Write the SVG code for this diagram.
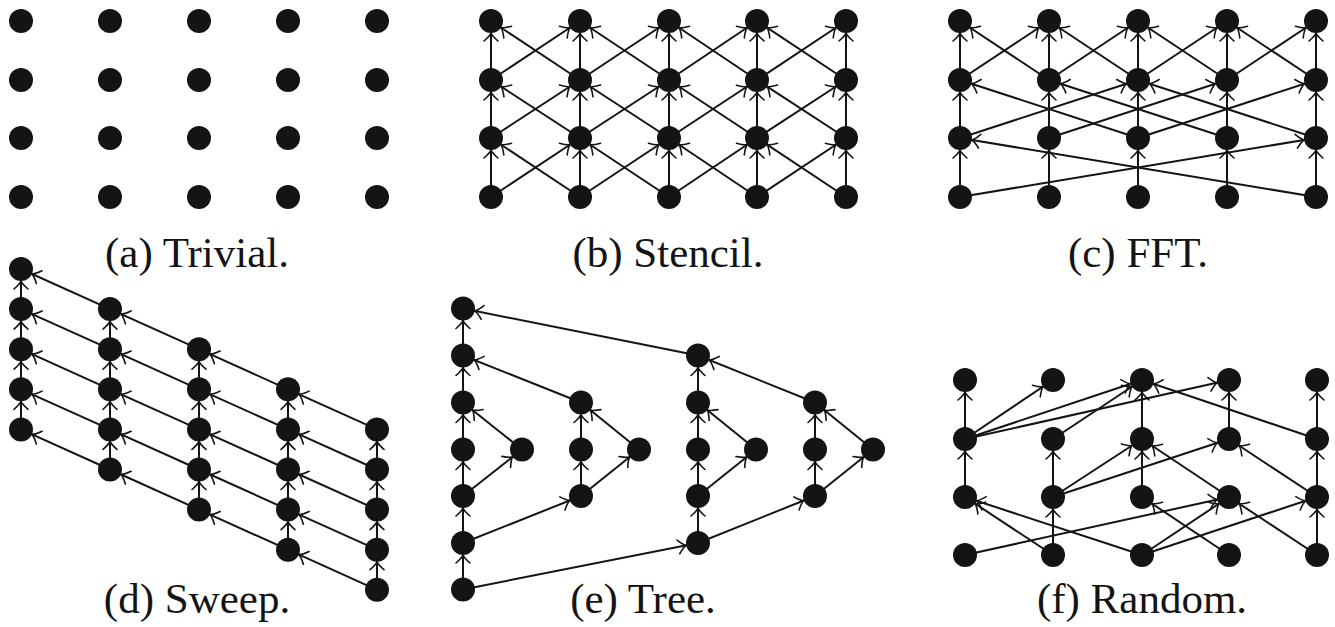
<svg xmlns="http://www.w3.org/2000/svg" width="1335" height="627" viewBox="0 0 1335 627">
<style>
.e{stroke:#141414;stroke-width:2;fill:none;marker-end:url(#ah)}
.n circle{fill:#141414}
.lbl{font-family:"Liberation Serif","Times New Roman",serif;font-size:43px;fill:#141414;text-anchor:middle}
</style>
<defs>
<marker id="ah" viewBox="-20 -10 40 20" markerWidth="40" markerHeight="20" markerUnits="userSpaceOnUse" refX="12" refY="0" orient="auto" overflow="visible">
<path d="M-8,-7 Q-3,-1.2 0,0 Q-3,1.2 -8,7" fill="none" stroke="#141414" stroke-width="1.6" stroke-linecap="round"/>
</marker>
</defs>
<rect width="1335" height="627" fill="#fff"/>

<g id="connectors">
<!-- (b) Stencil -->
<line class="e" x1="491" y1="197" x2="491" y2="138"/><line class="e" x1="580" y1="197" x2="580" y2="138"/><line class="e" x1="669" y1="197" x2="669" y2="138"/><line class="e" x1="757" y1="197" x2="757" y2="138"/><line class="e" x1="846" y1="197" x2="846" y2="138"/>
<line class="e" x1="491" y1="197" x2="580" y2="138"/><line class="e" x1="580" y1="197" x2="669" y2="138"/><line class="e" x1="669" y1="197" x2="757" y2="138"/><line class="e" x1="757" y1="197" x2="846" y2="138"/>
<line class="e" x1="580" y1="197" x2="491" y2="138"/><line class="e" x1="669" y1="197" x2="580" y2="138"/><line class="e" x1="757" y1="197" x2="669" y2="138"/><line class="e" x1="846" y1="197" x2="757" y2="138"/>
<line class="e" x1="491" y1="138" x2="491" y2="80"/><line class="e" x1="580" y1="138" x2="580" y2="80"/><line class="e" x1="669" y1="138" x2="669" y2="80"/><line class="e" x1="757" y1="138" x2="757" y2="80"/><line class="e" x1="846" y1="138" x2="846" y2="80"/>
<line class="e" x1="491" y1="138" x2="580" y2="80"/><line class="e" x1="580" y1="138" x2="669" y2="80"/><line class="e" x1="669" y1="138" x2="757" y2="80"/><line class="e" x1="757" y1="138" x2="846" y2="80"/>
<line class="e" x1="580" y1="138" x2="491" y2="80"/><line class="e" x1="669" y1="138" x2="580" y2="80"/><line class="e" x1="757" y1="138" x2="669" y2="80"/><line class="e" x1="846" y1="138" x2="757" y2="80"/>
<line class="e" x1="491" y1="80" x2="491" y2="21"/><line class="e" x1="580" y1="80" x2="580" y2="21"/><line class="e" x1="669" y1="80" x2="669" y2="21"/><line class="e" x1="757" y1="80" x2="757" y2="21"/><line class="e" x1="846" y1="80" x2="846" y2="21"/>
<line class="e" x1="491" y1="80" x2="580" y2="21"/><line class="e" x1="580" y1="80" x2="669" y2="21"/><line class="e" x1="669" y1="80" x2="757" y2="21"/><line class="e" x1="757" y1="80" x2="846" y2="21"/>
<line class="e" x1="580" y1="80" x2="491" y2="21"/><line class="e" x1="669" y1="80" x2="580" y2="21"/><line class="e" x1="757" y1="80" x2="669" y2="21"/><line class="e" x1="846" y1="80" x2="757" y2="21"/>

<!-- (c) FFT -->
<line class="e" x1="960" y1="197" x2="960" y2="138"/><line class="e" x1="1049" y1="197" x2="1049" y2="138"/><line class="e" x1="1138" y1="197" x2="1138" y2="138"/><line class="e" x1="1227" y1="197" x2="1227" y2="138"/><line class="e" x1="1316" y1="197" x2="1316" y2="138"/>
<line class="e" x1="960" y1="197" x2="1316" y2="138"/><line class="e" x1="1316" y1="197" x2="960" y2="138"/>
<line class="e" x1="960" y1="138" x2="960" y2="80"/><line class="e" x1="1049" y1="138" x2="1049" y2="80"/><line class="e" x1="1138" y1="138" x2="1138" y2="80"/><line class="e" x1="1227" y1="138" x2="1227" y2="80"/><line class="e" x1="1316" y1="138" x2="1316" y2="80"/>
<line class="e" x1="960" y1="138" x2="1138" y2="80"/><line class="e" x1="1138" y1="138" x2="960" y2="80"/><line class="e" x1="1049" y1="138" x2="1227" y2="80"/><line class="e" x1="1227" y1="138" x2="1049" y2="80"/><line class="e" x1="1138" y1="138" x2="1316" y2="80"/><line class="e" x1="1316" y1="138" x2="1138" y2="80"/>
<line class="e" x1="960" y1="80" x2="960" y2="21"/><line class="e" x1="1049" y1="80" x2="1049" y2="21"/><line class="e" x1="1138" y1="80" x2="1138" y2="21"/><line class="e" x1="1227" y1="80" x2="1227" y2="21"/><line class="e" x1="1316" y1="80" x2="1316" y2="21"/>
<line class="e" x1="960" y1="80" x2="1049" y2="21"/><line class="e" x1="1049" y1="80" x2="1138" y2="21"/><line class="e" x1="1138" y1="80" x2="1227" y2="21"/><line class="e" x1="1227" y1="80" x2="1316" y2="21"/>
<line class="e" x1="1049" y1="80" x2="960" y2="21"/><line class="e" x1="1138" y1="80" x2="1049" y2="21"/><line class="e" x1="1227" y1="80" x2="1138" y2="21"/><line class="e" x1="1316" y1="80" x2="1227" y2="21"/>

<!-- (d) Sweep: verticals -->
<line class="e" x1="21" y1="309.1" x2="21" y2="269"/><line class="e" x1="21" y1="349.2" x2="21" y2="309.1"/><line class="e" x1="21" y1="389.3" x2="21" y2="349.2"/><line class="e" x1="21" y1="429.4" x2="21" y2="389.3"/>
<line class="e" x1="110" y1="349.2" x2="110" y2="309.1"/><line class="e" x1="110" y1="389.3" x2="110" y2="349.2"/><line class="e" x1="110" y1="429.4" x2="110" y2="389.3"/><line class="e" x1="110" y1="469.5" x2="110" y2="429.4"/>
<line class="e" x1="199" y1="389.3" x2="199" y2="349.2"/><line class="e" x1="199" y1="429.4" x2="199" y2="389.3"/><line class="e" x1="199" y1="469.5" x2="199" y2="429.4"/><line class="e" x1="199" y1="509.6" x2="199" y2="469.5"/>
<line class="e" x1="288" y1="429.4" x2="288" y2="389.3"/><line class="e" x1="288" y1="469.5" x2="288" y2="429.4"/><line class="e" x1="288" y1="509.6" x2="288" y2="469.5"/><line class="e" x1="288" y1="549.7" x2="288" y2="509.6"/>
<line class="e" x1="377" y1="469.5" x2="377" y2="429.4"/><line class="e" x1="377" y1="509.6" x2="377" y2="469.5"/><line class="e" x1="377" y1="549.7" x2="377" y2="509.6"/><line class="e" x1="377" y1="589.8" x2="377" y2="549.7"/>
<!-- (d) Sweep: diagonals -->
<line class="e" x1="110" y1="309.1" x2="21" y2="269"/><line class="e" x1="110" y1="349.2" x2="21" y2="309.1"/><line class="e" x1="110" y1="389.3" x2="21" y2="349.2"/><line class="e" x1="110" y1="429.4" x2="21" y2="389.3"/><line class="e" x1="110" y1="469.5" x2="21" y2="429.4"/>
<line class="e" x1="199" y1="349.2" x2="110" y2="309.1"/><line class="e" x1="199" y1="389.3" x2="110" y2="349.2"/><line class="e" x1="199" y1="429.4" x2="110" y2="389.3"/><line class="e" x1="199" y1="469.5" x2="110" y2="429.4"/><line class="e" x1="199" y1="509.6" x2="110" y2="469.5"/>
<line class="e" x1="288" y1="389.3" x2="199" y2="349.2"/><line class="e" x1="288" y1="429.4" x2="199" y2="389.3"/><line class="e" x1="288" y1="469.5" x2="199" y2="429.4"/><line class="e" x1="288" y1="509.6" x2="199" y2="469.5"/><line class="e" x1="288" y1="549.7" x2="199" y2="509.6"/>
<line class="e" x1="377" y1="429.4" x2="288" y2="389.3"/><line class="e" x1="377" y1="469.5" x2="288" y2="429.4"/><line class="e" x1="377" y1="509.6" x2="288" y2="469.5"/><line class="e" x1="377" y1="549.7" x2="288" y2="509.6"/><line class="e" x1="377" y1="589.8" x2="288" y2="549.7"/>

<!-- (e) Tree -->
<line class="e" x1="463" y1="589.5" x2="463" y2="543"/><line class="e" x1="463" y1="543" x2="463" y2="496"/><line class="e" x1="463" y1="496" x2="463" y2="449.5"/><line class="e" x1="463" y1="449.5" x2="463" y2="402.5"/><line class="e" x1="463" y1="402.5" x2="463" y2="355.5"/><line class="e" x1="463" y1="355.5" x2="463" y2="308.5"/>
<line class="e" x1="463" y1="496" x2="522" y2="449.5"/><line class="e" x1="522" y1="449.5" x2="463" y2="402.5"/>
<line class="e" x1="463" y1="543" x2="581" y2="496"/><line class="e" x1="581" y1="496" x2="581" y2="449.5"/><line class="e" x1="581" y1="449.5" x2="581" y2="402.5"/><line class="e" x1="581" y1="496" x2="639" y2="449.5"/><line class="e" x1="639" y1="449.5" x2="581" y2="402.5"/><line class="e" x1="581" y1="402.5" x2="463" y2="355.5"/>
<line class="e" x1="463" y1="589.5" x2="698" y2="543"/><line class="e" x1="698" y1="543" x2="698" y2="496"/><line class="e" x1="698" y1="496" x2="698" y2="449.5"/><line class="e" x1="698" y1="449.5" x2="698" y2="402.5"/><line class="e" x1="698" y1="402.5" x2="698" y2="355.5"/>
<line class="e" x1="698" y1="496" x2="756" y2="449.5"/><line class="e" x1="756" y1="449.5" x2="698" y2="402.5"/>
<line class="e" x1="698" y1="543" x2="815" y2="496"/><line class="e" x1="815" y1="496" x2="815" y2="449.5"/><line class="e" x1="815" y1="449.5" x2="815" y2="402.5"/><line class="e" x1="815" y1="496" x2="873" y2="449.5"/><line class="e" x1="873" y1="449.5" x2="815" y2="402.5"/><line class="e" x1="815" y1="402.5" x2="698" y2="355.5"/>
<line class="e" x1="698" y1="355.5" x2="463" y2="308.5"/>

<!-- (f) Random -->
<line class="e" x1="965" y1="439" x2="965" y2="380"/>
<line class="e" x1="965" y1="497" x2="965" y2="439"/>
<line class="e" x1="965" y1="439" x2="1053" y2="380"/>
<line class="e" x1="965" y1="439" x2="1142" y2="380"/>
<line class="e" x1="965" y1="439" x2="1229" y2="380"/>
<line class="e" x1="1053" y1="439" x2="1142" y2="380"/>
<line class="e" x1="1142" y1="439" x2="1142" y2="380"/>
<line class="e" x1="1317" y1="439" x2="1142" y2="380"/>
<line class="e" x1="1229" y1="439" x2="1229" y2="380"/>
<line class="e" x1="1317" y1="439" x2="1317" y2="380"/>
<line class="e" x1="1053" y1="497" x2="1053" y2="439"/>
<line class="e" x1="1053" y1="497" x2="1142" y2="439"/>
<line class="e" x1="1053" y1="497" x2="1229" y2="439"/>
<line class="e" x1="1142" y1="497" x2="1142" y2="439"/>
<line class="e" x1="1229" y1="497" x2="1142" y2="439"/>
<line class="e" x1="1317" y1="497" x2="1229" y2="439"/>
<line class="e" x1="1317" y1="497" x2="1317" y2="439"/>
<line class="e" x1="1053" y1="555" x2="1053" y2="497"/>
<line class="e" x1="1053" y1="555" x2="965" y2="497"/>
<line class="e" x1="1142" y1="555" x2="965" y2="497"/>
<line class="e" x1="965" y1="555" x2="1229" y2="497"/>
<line class="e" x1="1142" y1="555" x2="1229" y2="497"/>
<line class="e" x1="1142" y1="555" x2="1317" y2="497"/>
<line class="e" x1="1229" y1="555" x2="1142" y2="497"/>
<line class="e" x1="1317" y1="555" x2="1229" y2="497"/>
<line class="e" x1="1317" y1="555" x2="1317" y2="497"/>
</g>

<!-- nodes -->
<g id="trivial" class="n">
<circle cx="21" cy="21" r="12"/><circle cx="110" cy="21" r="12"/><circle cx="199" cy="21" r="12"/><circle cx="288" cy="21" r="12"/><circle cx="377" cy="21" r="12"/>
<circle cx="21" cy="80" r="12"/><circle cx="110" cy="80" r="12"/><circle cx="199" cy="80" r="12"/><circle cx="288" cy="80" r="12"/><circle cx="377" cy="80" r="12"/>
<circle cx="21" cy="138" r="12"/><circle cx="110" cy="138" r="12"/><circle cx="199" cy="138" r="12"/><circle cx="288" cy="138" r="12"/><circle cx="377" cy="138" r="12"/>
<circle cx="21" cy="197" r="12"/><circle cx="110" cy="197" r="12"/><circle cx="199" cy="197" r="12"/><circle cx="288" cy="197" r="12"/><circle cx="377" cy="197" r="12"/>
</g>
<g id="stencil" class="n">
<circle cx="491" cy="21" r="12"/><circle cx="580" cy="21" r="12"/><circle cx="669" cy="21" r="12"/><circle cx="757" cy="21" r="12"/><circle cx="846" cy="21" r="12"/>
<circle cx="491" cy="80" r="12"/><circle cx="580" cy="80" r="12"/><circle cx="669" cy="80" r="12"/><circle cx="757" cy="80" r="12"/><circle cx="846" cy="80" r="12"/>
<circle cx="491" cy="138" r="12"/><circle cx="580" cy="138" r="12"/><circle cx="669" cy="138" r="12"/><circle cx="757" cy="138" r="12"/><circle cx="846" cy="138" r="12"/>
<circle cx="491" cy="197" r="12"/><circle cx="580" cy="197" r="12"/><circle cx="669" cy="197" r="12"/><circle cx="757" cy="197" r="12"/><circle cx="846" cy="197" r="12"/>
</g>
<g id="fft" class="n">
<circle cx="960" cy="21" r="12"/><circle cx="1049" cy="21" r="12"/><circle cx="1138" cy="21" r="12"/><circle cx="1227" cy="21" r="12"/><circle cx="1316" cy="21" r="12"/>
<circle cx="960" cy="80" r="12"/><circle cx="1049" cy="80" r="12"/><circle cx="1138" cy="80" r="12"/><circle cx="1227" cy="80" r="12"/><circle cx="1316" cy="80" r="12"/>
<circle cx="960" cy="138" r="12"/><circle cx="1049" cy="138" r="12"/><circle cx="1138" cy="138" r="12"/><circle cx="1227" cy="138" r="12"/><circle cx="1316" cy="138" r="12"/>
<circle cx="960" cy="197" r="12"/><circle cx="1049" cy="197" r="12"/><circle cx="1138" cy="197" r="12"/><circle cx="1227" cy="197" r="12"/><circle cx="1316" cy="197" r="12"/>
</g>
<g id="sweep" class="n">
<circle cx="21" cy="269" r="12"/><circle cx="21" cy="309.1" r="12"/><circle cx="21" cy="349.2" r="12"/><circle cx="21" cy="389.3" r="12"/><circle cx="21" cy="429.4" r="12"/>
<circle cx="110" cy="309.1" r="12"/><circle cx="110" cy="349.2" r="12"/><circle cx="110" cy="389.3" r="12"/><circle cx="110" cy="429.4" r="12"/><circle cx="110" cy="469.5" r="12"/>
<circle cx="199" cy="349.2" r="12"/><circle cx="199" cy="389.3" r="12"/><circle cx="199" cy="429.4" r="12"/><circle cx="199" cy="469.5" r="12"/><circle cx="199" cy="509.6" r="12"/>
<circle cx="288" cy="389.3" r="12"/><circle cx="288" cy="429.4" r="12"/><circle cx="288" cy="469.5" r="12"/><circle cx="288" cy="509.6" r="12"/><circle cx="288" cy="549.7" r="12"/>
<circle cx="377" cy="429.4" r="12"/><circle cx="377" cy="469.5" r="12"/><circle cx="377" cy="509.6" r="12"/><circle cx="377" cy="549.7" r="12"/><circle cx="377" cy="589.8" r="12"/>
</g>
<g id="tree" class="n">
<circle cx="463" cy="308.5" r="12"/><circle cx="463" cy="355.5" r="12"/><circle cx="463" cy="402.5" r="12"/><circle cx="463" cy="449.5" r="12"/><circle cx="463" cy="496" r="12"/><circle cx="463" cy="543" r="12"/><circle cx="463" cy="589.5" r="12"/>
<circle cx="522" cy="449.5" r="12"/>
<circle cx="581" cy="402.5" r="12"/><circle cx="581" cy="449.5" r="12"/><circle cx="581" cy="496" r="12"/>
<circle cx="639" cy="449.5" r="12"/>
<circle cx="698" cy="355.5" r="12"/><circle cx="698" cy="402.5" r="12"/><circle cx="698" cy="449.5" r="12"/><circle cx="698" cy="496" r="12"/><circle cx="698" cy="543" r="12"/>
<circle cx="756" cy="449.5" r="12"/>
<circle cx="815" cy="402.5" r="12"/><circle cx="815" cy="449.5" r="12"/><circle cx="815" cy="496" r="12"/>
<circle cx="873" cy="449.5" r="12"/>
</g>
<g id="random" class="n">
<circle cx="965" cy="380" r="12"/><circle cx="1053" cy="380" r="12"/><circle cx="1142" cy="380" r="12"/><circle cx="1229" cy="380" r="12"/><circle cx="1317" cy="380" r="12"/>
<circle cx="965" cy="439" r="12"/><circle cx="1053" cy="439" r="12"/><circle cx="1142" cy="439" r="12"/><circle cx="1229" cy="439" r="12"/><circle cx="1317" cy="439" r="12"/>
<circle cx="965" cy="497" r="12"/><circle cx="1053" cy="497" r="12"/><circle cx="1142" cy="497" r="12"/><circle cx="1229" cy="497" r="12"/><circle cx="1317" cy="497" r="12"/>
<circle cx="965" cy="555" r="12"/><circle cx="1053" cy="555" r="12"/><circle cx="1142" cy="555" r="12"/><circle cx="1229" cy="555" r="12"/><circle cx="1317" cy="555" r="12"/>
</g>

<g id="labels">
<text class="lbl" x="197" y="267">(a) Trivial.</text>
<text class="lbl" x="668" y="267">(b) Stencil.</text>
<text class="lbl" x="1138" y="267">(c) FFT.</text>
<text class="lbl" x="197" y="613">(d) Sweep.</text>
<text class="lbl" x="643" y="613">(e) Tree.</text>
<text class="lbl" x="1142" y="613">(f) Random.</text>
</g>
</svg>
